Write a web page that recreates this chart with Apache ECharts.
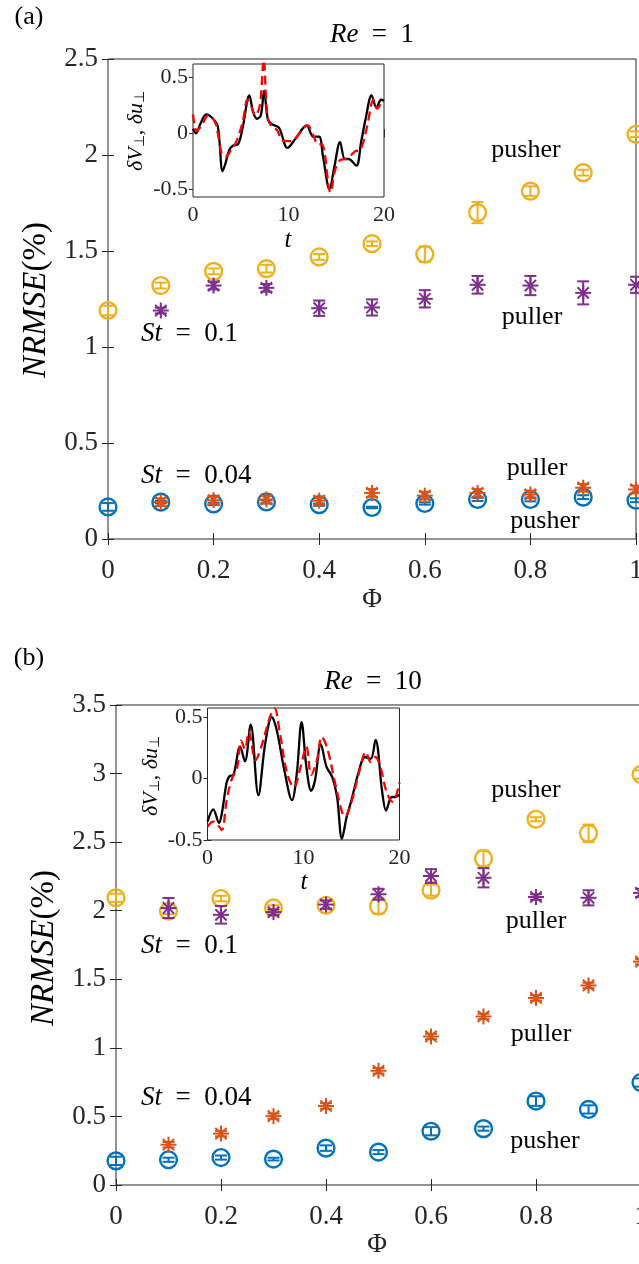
<!DOCTYPE html>
<html>
<head>
<meta charset="utf-8">
<script src="https://cdn.jsdelivr.net/npm/echarts@6/dist/echarts.min.js"></script>
<style>
html,body{margin:0;padding:0;background:#fff;overflow:hidden;}
#c{width:639px;height:1264px;}
</style>
</head>
<body>
<div id="c"></div>
<script>
// ---------------- data ----------------
const phi = [0, 0.1, 0.2, 0.3, 0.4, 0.5, 0.6, 0.7, 0.8, 0.9, 1];

// Panel (a): Re = 1
const aPusherSt01    = [1.19, 1.32, 1.394, 1.408, 1.469, 1.538, 1.483, 1.70, 1.812, 1.908, 2.108];
const aPusherSt01Err = [0.025, 0.015, 0.015, 0.02, 0.015, 0.012, 0.04, 0.055, 0.025, 0.015, 0.015];
const aPullerSt01    = [null, 1.19, 1.32, 1.308, 1.202, 1.206, 1.251, 1.324, 1.32, 1.282, 1.324];
const aPullerSt01Err = [null, 0.015, 0.02, 0.02, 0.04, 0.042, 0.045, 0.046, 0.05, 0.06, 0.042];
const aPusherSt004    = [0.167, 0.192, 0.183, 0.193, 0.179, 0.164, 0.185, 0.206, 0.206, 0.218, 0.202];
const aPusherSt004Err = [0.02, 0.006, 0.006, 0.008, 0.006, 0.004, 0.006, 0.008, 0.01, 0.01, 0.01];
const aPullerSt004    = [null, 0.192, 0.202, 0.206, 0.2, 0.24, 0.226, 0.24, 0.232, 0.267, 0.258];
const aPullerSt004Err = [null, 0.02, 0.02, 0.02, 0.02, 0.02, 0.02, 0.02, 0.02, 0.02, 0.02];

// Panel (b): Re = 10
const bPusherSt01    = [2.094, 1.996, 2.089, 2.02, 2.04, 2.033, 2.15, 2.38, 2.667, 2.564, 2.993];
const bPusherSt01Err = [0.03, 0.02, 0.02, 0.02, 0.03, 0.055, 0.04, 0.058, 0.015, 0.064, 0.03];
const bPullerSt01    = [null, 2.02, 1.97, 1.99, 2.045, 2.12, 2.253, 2.24, 2.10, 2.094, 2.13];
const bPullerSt01Err = [null, 0.073, 0.064, 0.02, 0.03, 0.04, 0.05, 0.07, 0.02, 0.055, 0.03];
const bPusherSt004    = [0.176, 0.184, 0.20, 0.189, 0.269, 0.24, 0.392, 0.411, 0.612, 0.551, 0.747];
const bPusherSt004Err = [0.03, 0.015, 0.015, 0.01, 0.02, 0.015, 0.03, 0.015, 0.035, 0.03, 0.03];
const bPullerSt004    = [null, 0.294, 0.375, 0.502, 0.576, 0.833, 1.083, 1.229, 1.364, 1.455, 1.629];
const bPullerSt004Err = [null, 0.02, 0.02, 0.02, 0.02, 0.02, 0.02, 0.02, 0.02, 0.02, 0.02];

// Inset (a): delta V_perp (black) and delta u_perp (red dashed) vs t
const aInsetTBlack = [0, 0.3, 0.8, 1.4, 2.1, 2.6, 3.1, 3.4, 3.8, 4.2, 4.7, 5.2, 5.9, 6.3, 6.7, 7.1, 7.45, 7.85, 8.3, 9.0, 9.9, 10.8, 11.9, 12.6, 13.2, 13.6, 14.3, 14.8, 15.4, 15.9, 16.3, 17.1, 17.6, 18.1, 18.7, 19.2, 19.7, 20];
const aInsetVBlack = [0.04, 0.0, 0.09, 0.17, 0.13, 0.06, -0.34, -0.27, -0.15, -0.11, -0.1, 0.05, 0.34, 0.19, 0.13, 0.16, 0.38, 0.12, 0.08, 0.05, -0.13, -0.04, 0.07, -0.03, -0.03, -0.2, -0.5, -0.3, -0.08, -0.23, -0.23, -0.29, -0.08, 0.14, 0.34, 0.23, 0.3, 0.29];
const aInsetTRed = [0, 0.4, 0.9, 1.6, 2.3, 2.7, 3.0, 3.4, 3.9, 4.5, 5.2, 5.7, 6.1, 6.5, 7.0, 7.4, 7.8, 8.3, 8.8, 9.3, 10.0, 10.6, 11.3, 12.0, 12.6, 13.1, 13.5, 14.4, 14.9, 15.4, 16.0, 16.5, 17.0, 17.5, 18.2, 18.9, 19.3, 19.7, 20];
const aInsetVRed = [0.17, 0.02, 0.07, 0.16, 0.1, -0.05, -0.18, -0.21, -0.16, -0.08, 0.1, 0.3, 0.24, 0.16, 0.25, 0.66, 0.15, 0.05, 0.03, -0.06, -0.07, -0.06, 0.02, 0.07, -0.02, -0.1, -0.1, -0.53, -0.32, -0.24, -0.23, -0.2, -0.16, -0.15, 0.05, 0.3, 0.22, 0.27, 0.28];

// Inset (b)
const bInsetTBlack = [0, 0.6, 1.2, 1.5, 2.0, 2.3, 2.7, 3.4, 3.9, 4.5, 5.3, 6.0, 6.7, 7.2, 8.0, 8.8, 9.3, 9.8, 10.3, 10.8, 11.2, 11.8, 12.4, 13.0, 13.5, 14.0, 14.5, 15.0, 15.8, 16.4, 17.0, 17.5, 18.2, 18.6, 19.2, 19.6, 20];
const bInsetVBlack = [-0.35, -0.25, -0.36, -0.28, -0.03, 0.02, 0.03, 0.26, 0.14, 0.44, -0.135, 0.28, 0.5, 0.4, 0.07, -0.175, 0.04, 0.46, 0.095, -0.1, -0.013, 0.28, 0.095, 0.013, -0.15, -0.49, -0.31, -0.175, 0.07, 0.176, 0.16, 0.316, -0.11, -0.26, -0.15, -0.15, -0.13];
const bInsetTRed = [0, 0.6, 1.2, 1.5, 2.0, 2.5, 3.1, 3.5, 3.9, 4.3, 5.0, 5.6, 6.5, 7.0, 7.5, 8.3, 9.0, 9.7, 10.3, 10.8, 11.4, 11.9, 12.5, 13.3, 14.0, 14.3, 15.0, 15.8, 16.5, 17.0, 17.5, 18.0, 18.7, 19.3, 20];
const bInsetVRed = [-0.39, -0.35, -0.39, -0.42, -0.175, -0.01, 0.095, 0.31, 0.24, 0.38, 0.15, 0.26, 0.5, 0.57, 0.39, 0.04, -0.07, 0.095, 0.26, 0.03, 0.15, 0.34, 0.24, -0.04, -0.27, -0.31, -0.19, 0.054, 0.216, 0.135, 0.176, 0.095, -0.12, -0.19, -0.03];

const insetYTicks = [-0.5, 0, 0.5];

// ---------------- styling ----------------
const FONT = "'Liberation Serif', 'Times New Roman', serif";
const AX = '#262626';
const C_BLUE = '#0072BD', C_ORANGE = '#D95319', C_YELLOW = '#EDB120', C_PURPLE = '#7E2F8E';

function pts(ys, errs) {
  const out = [];
  phi.forEach((x, i) => { if (ys[i] !== null) out.push([x, ys[i], errs[i]]); });
  return out;
}
function line(t, v) { return t.map((x, i) => [x, v[i]]); }

function markerRender(kind, color) {
  return function (params, api) {
    const x = api.value(0), y = api.value(1), e = api.value(2);
    const c = api.coord([x, y]);
    const t = api.coord([x, y + e]);
    const b = api.coord([x, y - e]);
    const cap = 6;
    const ls = { stroke: color, lineWidth: 2, fill: null };
    const ch = [
      { type: 'line', shape: { x1: c[0], y1: t[1], x2: c[0], y2: b[1] }, style: ls },
      { type: 'line', shape: { x1: c[0] - cap, y1: t[1], x2: c[0] + cap, y2: t[1] }, style: ls },
      { type: 'line', shape: { x1: c[0] - cap, y1: b[1], x2: c[0] + cap, y2: b[1] }, style: ls }
    ];
    if (kind === 'circle') {
      ch.push({ type: 'circle', shape: { cx: c[0], cy: c[1], r: 8.4 }, style: { fill: null, stroke: color, lineWidth: 2.4 } });
    } else {
      const r = 8, d = r * 0.7071;
      const segs = [[0, -r, 0, r], [-r, 0, r, 0], [-d, -d, d, d], [-d, d, d, -d]];
      segs.forEach(s => ch.push({ type: 'line', shape: { x1: c[0] + s[0], y1: c[1] + s[1], x2: c[0] + s[2], y2: c[1] + s[3] }, style: { stroke: color, lineWidth: 2 } }));
    }
    return { type: 'group', children: ch };
  };
}

function markerSeries(data, kind, color, xi, yi) {
  return {
    type: 'custom', coordinateSystem: 'cartesian2d', xAxisIndex: xi, yAxisIndex: yi,
    clip: false, silent: true, data: data, encode: { x: 0, y: 1 },
    renderItem: markerRender(kind, color), z: 5
  };
}

const tickLabel = { fontFamily: FONT, fontSize: 27, color: AX };
const insetLabel = { fontFamily: FONT, fontSize: 22, color: AX };

function mainXAxes(g) {
  const base = { gridIndex: g, type: 'value', min: 0, max: 1, interval: 0.2, splitLine: { show: false }, axisLine: { show: false } };
  return [
    Object.assign({}, base, { position: 'bottom', axisTick: { inside: true, length: 6, lineStyle: { color: AX } }, axisLabel: Object.assign({ margin: 18 }, tickLabel) }),
    Object.assign({}, base, { position: 'top', axisTick: { inside: true, length: 6, lineStyle: { color: AX } }, axisLabel: { show: false } })
  ];
}
function mainYAxes(g, ymax) {
  const base = { gridIndex: g, type: 'value', min: 0, max: ymax, interval: 0.5, splitLine: { show: false }, axisLine: { show: false } };
  return [
    Object.assign({}, base, { position: 'left', axisTick: { inside: true, length: 6, lineStyle: { color: AX } }, axisLabel: Object.assign({ margin: 10 }, tickLabel) }),
    Object.assign({}, base, { position: 'right', axisTick: { inside: true, length: 6, lineStyle: { color: AX } }, axisLabel: { show: false } })
  ];
}
function insetXAxes(g) {
  const base = { gridIndex: g, type: 'value', min: 0, max: 20, interval: 10, splitLine: { show: false }, axisLine: { show: false } };
  return [
    Object.assign({}, base, { position: 'bottom', axisTick: { inside: true, length: 4, lineStyle: { color: AX } }, axisLabel: Object.assign({ margin: 7 }, insetLabel) }),
    Object.assign({}, base, { position: 'top', axisTick: { inside: true, length: 4, lineStyle: { color: AX } }, axisLabel: { show: false } })
  ];
}
function insetYAxes(g, ymin, ymax) {
  const base = { gridIndex: g, type: 'value', min: ymin, max: ymax, splitLine: { show: false }, axisLine: { show: false } };
  return [
    Object.assign({}, base, { position: 'left', axisTick: { inside: true, length: 4, lineStyle: { color: AX }, customValues: insetYTicks }, axisLabel: Object.assign({ margin: 5, customValues: insetYTicks }, insetLabel) }),
    Object.assign({}, base, { position: 'right', axisTick: { inside: true, length: 4, lineStyle: { color: AX }, customValues: insetYTicks }, axisLabel: { show: false, customValues: insetYTicks } })
  ];
}

const xAxes = [].concat(mainXAxes(0), insetXAxes(1), mainXAxes(2), insetXAxes(3));
const yAxes = [].concat(mainYAxes(0, 2.5), insetYAxes(1, -0.57, 0.62), mainYAxes(2, 3.5), insetYAxes(3, -0.5, 0.575));

const gridBase = { show: true, borderColor: AX, borderWidth: 1, containLabel: false, outerBoundsMode: 'none' };
const grids = [
  Object.assign({ left: 108, top: 59, width: 528, height: 480, backgroundColor: 'transparent' }, gridBase),
  Object.assign({ left: 193, top: 64, width: 191, height: 133, backgroundColor: '#fff', z: 3 }, gridBase),
  Object.assign({ left: 116, top: 705, width: 525, height: 480, backgroundColor: 'transparent' }, gridBase),
  Object.assign({ left: 207.5, top: 708, width: 192, height: 132, backgroundColor: '#fff', z: 3 }, gridBase)
];

function insetLine(data, color, dashed, xi, yi) {
  return {
    type: 'line', xAxisIndex: xi, yAxisIndex: yi, data: data, showSymbol: false, smooth: 0.35,
    silent: true, clip: true, z: 6,
    lineStyle: { color: color, width: 2.3, type: dashed ? [9, 5] : 'solid' }
  };
}

const series = [
  markerSeries(pts(aPusherSt01, aPusherSt01Err), 'circle', C_YELLOW, 0, 0),
  markerSeries(pts(aPullerSt01, aPullerSt01Err), 'star', C_PURPLE, 0, 0),
  markerSeries(pts(aPusherSt004, aPusherSt004Err), 'circle', C_BLUE, 0, 0),
  markerSeries(pts(aPullerSt004, aPullerSt004Err), 'star', C_ORANGE, 0, 0),
  insetLine(line(aInsetTBlack, aInsetVBlack), '#000', false, 2, 2),
  insetLine(line(aInsetTRed, aInsetVRed), '#FF0000', true, 2, 2),
  markerSeries(pts(bPusherSt01, bPusherSt01Err), 'circle', C_YELLOW, 4, 4),
  markerSeries(pts(bPullerSt01, bPullerSt01Err), 'star', C_PURPLE, 4, 4),
  markerSeries(pts(bPusherSt004, bPusherSt004Err), 'circle', C_BLUE, 4, 4),
  markerSeries(pts(bPullerSt004, bPullerSt004Err), 'star', C_ORANGE, 4, 4),
  insetLine(line(bInsetTBlack, bInsetVBlack), '#000', false, 6, 6),
  insetLine(line(bInsetTRed, bInsetVRed), '#FF0000', true, 6, 6)
];

// ---------------- texts ----------------
const EN = '\u2002';
function txt(text, x, y, opts) {
  opts = opts || {};
  const size = opts.size || 26;
  const style = {
    text: text, fill: opts.color || '#000', fontFamily: FONT, fontSize: size,
    fontStyle: opts.italic ? 'italic' : 'normal',
    align: opts.align || 'center', verticalAlign: 'middle',
    textAlign: opts.align || 'center', textVerticalAlign: 'middle'
  };
  if (opts.rich) style.rich = opts.rich;
  const el = { type: 'text', x: x, y: y, z: 20, silent: true, style: style };
  if (opts.rotation) el.rotation = opts.rotation;
  return el;
}
const richMath = (size) => ({
  i: { fontStyle: 'italic', fontFamily: FONT, fontSize: size, fill: '#000', color: '#000' },
  n: { fontStyle: 'normal', fontFamily: FONT, fontSize: size, fill: '#000', color: '#000' }
});
const richInset = {
  i: { fontStyle: 'italic', fontFamily: FONT, fontSize: 22, color: '#000' },
  n: { fontStyle: 'normal', fontFamily: FONT, fontSize: 22, color: '#000' },
  s: { fontStyle: 'normal', fontFamily: FONT, fontSize: 14, color: '#000', padding: [9, 0, 0, 0] }
};

const graphics = [
  // panel (a)
  txt('(a)', 29, 17, { size: 26 }),
  txt('{i|Re}{n|' + EN + '=' + EN + '1}', 372, 35, { size: 27, rich: richMath(27) }),
  txt('Φ', 372, 600, { size: 27, color: AX }),
  txt('{i|NRMSE}{n|(%)}', 36, 300, { size: 33, rotation: Math.PI / 2, rich: richMath(33) }),
  txt('{i|δV}{s|⊥}{n|, }{i|δu}{s|⊥}', 136, 131, { size: 22, rotation: Math.PI / 2, rich: richInset }),
  txt('t', 288, 240, { size: 25, italic: true }),
  txt('pusher', 526, 150, { size: 26 }),
  txt('puller', 532, 317, { size: 26 }),
  txt('{i|St}{n|' + EN + '=' + EN + '0.1}', 141, 334, { size: 27, align: 'left', rich: richMath(27) }),
  txt('{i|St}{n|' + EN + '=' + EN + '0.04}', 141, 476, { size: 27, align: 'left', rich: richMath(27) }),
  txt('puller', 537, 468, { size: 26 }),
  txt('pusher', 545, 521, { size: 26 }),
  // panel (b)
  txt('(b)', 29, 658, { size: 26 }),
  txt('{i|Re}{n|' + EN + '=' + EN + '10}', 373, 682, { size: 27, rich: richMath(27) }),
  txt('Φ', 377, 1245, { size: 27, color: AX }),
  txt('{i|NRMSE}{n|(%)}', 44, 948, { size: 33, rotation: Math.PI / 2, rich: richMath(33) }),
  txt('{i|δV}{s|⊥}{n|, }{i|δu}{s|⊥}', 151, 776, { size: 22, rotation: Math.PI / 2, rich: richInset }),
  txt('t', 304, 882, { size: 25, italic: true }),
  txt('pusher', 526, 790, { size: 26 }),
  txt('puller', 536, 921, { size: 26 }),
  txt('{i|St}{n|' + EN + '=' + EN + '0.1}', 141, 946, { size: 27, align: 'left', rich: richMath(27) }),
  txt('puller', 541, 1034, { size: 26 }),
  txt('{i|St}{n|' + EN + '=' + EN + '0.04}', 141, 1098, { size: 27, align: 'left', rich: richMath(27) }),
  txt('pusher', 545, 1141, { size: 26 })
];

const chart = echarts.init(document.getElementById('c'), null, { renderer: 'canvas', width: 639, height: 1264 });
chart.setOption({
  animation: false,
  backgroundColor: '#fff',
  grid: grids,
  xAxis: xAxes,
  yAxis: yAxes,
  series: series,
  graphic: { elements: graphics }
});
</script>
</body>
</html>
